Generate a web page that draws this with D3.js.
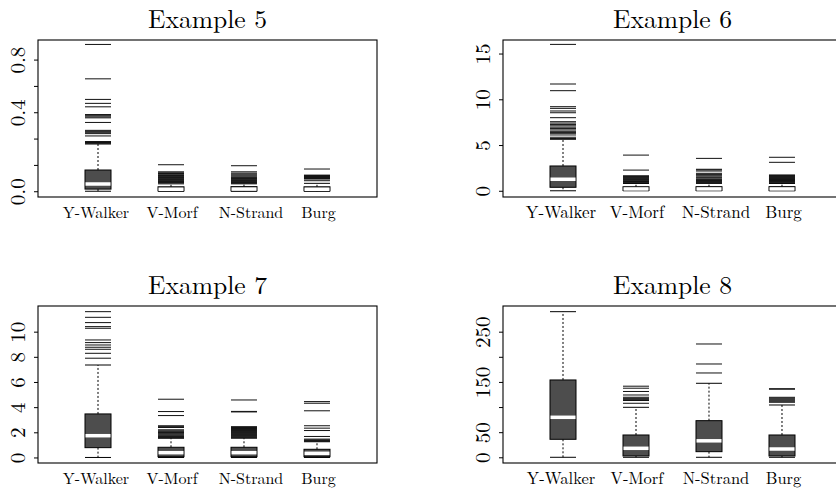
<!DOCTYPE html>
<html>
<head>
<meta charset="utf-8">
<script src="https://cdn.jsdelivr.net/npm/d3@7"></script>
</head>
<body style="margin:0;background:#fff">
<svg id="chart" width="836" height="489" font-family="Latin Modern Roman" style="display:block"></svg>
<script>
// ---------------- data ----------------
const categories = ["Y-Walker", "V-Morf", "N-Strand", "Burg"];
const titles = ["Example 5", "Example 6", "Example 7", "Example 8"];

// box statistics per category: [lower whisker, Q1, median, Q3, upper whisker]
const ex5Stats = [
  [0, 0.013, 0.044, 0.129, 0.287],
  [0, 0.002, 0.012, 0.027, 0.045],
  [0, 0.002, 0.013, 0.028, 0.045],
  [0, 0.002, 0.012, 0.027, 0.048]
];
const ex5Outliers = [
  [0.892, 0.683, 0.558, 0.534, 0.513, 0.466, 0.459, 0.452, 0.446, 0.418, 0.370, 0.364, 0.358, 0.350, 0.336, 0.302, 0.296, 0.291],
  [0.161, 0.118, 0.112, 0.108, 0.104, 0.099, 0.095, 0.092, 0.088, 0.084, 0.080, 0.076, 0.072, 0.068, 0.064, 0.060, 0.057, 0.054, 0.051],
  [0.155, 0.118, 0.110, 0.104, 0.098, 0.092, 0.086, 0.082, 0.078, 0.074, 0.070, 0.066, 0.062, 0.058, 0.055, 0.052, 0.049],
  [0.135, 0.098, 0.095, 0.092, 0.089, 0.086, 0.083, 0.080, 0.077, 0.074, 0.064]
];
const ex5Domain = [-0.035, 0.919];
const ex5Ticks = [0, 0.16, 0.32, 0.48, 0.64, 0.8];
const ex5TickLabels = ["0.0", "", "", "0.4", "", "0.8"];

const ex6Stats = [
  [0, 0.38, 1.26, 2.71, 5.63],
  [0, 0.03, 0.20, 0.44, 0.80],
  [0, 0.03, 0.20, 0.45, 0.81],
  [0, 0.02, 0.20, 0.45, 0.80]
];
const ex6Outliers = [
  [16.0, 11.67, 10.94, 9.19, 9.01, 8.72, 8.53, 7.99, 7.55, 7.40, 7.25, 7.10, 6.95, 6.80, 6.65, 6.50, 6.38, 6.28, 6.10, 5.85, 5.71],
  [3.90, 2.26, 1.64, 1.57, 1.50, 1.43, 1.36, 1.29, 1.22, 1.15, 1.08, 1.01, 0.94, 0.88],
  [3.54, 2.35, 2.28, 2.16, 1.91, 1.80, 1.72, 1.62, 1.50, 1.42, 1.30, 1.22, 1.12, 1.02, 0.92, 0.86],
  [3.66, 3.11, 1.73, 1.66, 1.60, 1.54, 1.48, 1.42, 1.36, 1.30, 1.24, 1.18, 1.12, 1.06, 1.00, 0.94, 0.88]
];
const ex6Domain = [-0.68, 16.48];
const ex6Ticks = [0, 5, 10, 15];
const ex6TickLabels = ["0", "5", "10", "15"];

const ex7Stats = [
  [0, 0.78, 1.73, 3.46, 7.35],
  [0, 0.06, 0.38, 0.81, 1.53],
  [0, 0.06, 0.38, 0.81, 1.53],
  [0, 0.06, 0.33, 0.65, 1.25]
];
const ex7Outliers = [
  [11.59, 11.14, 10.72, 10.40, 10.27, 9.34, 9.13, 8.94, 8.76, 8.60, 8.28, 7.89],
  [4.63, 3.65, 3.33, 2.52, 2.45, 2.38, 2.20, 2.12, 2.05, 1.98, 1.92, 1.85, 1.78, 1.72, 1.66, 1.60, 1.56],
  [4.57, 3.66, 3.62, 2.45, 2.38, 2.30, 2.22, 2.14, 2.06, 1.98, 1.90, 1.82, 1.74, 1.66, 1.58],
  [4.44, 4.31, 3.71, 2.52, 2.33, 2.14, 1.67, 1.46, 1.40, 1.34, 1.29]
];
const ex7Domain = [-0.44, 12.04];
const ex7Ticks = [0, 2, 4, 6, 8, 10];
const ex7TickLabels = ["0", "2", "4", "6", "8", "10"];

const ex8Stats = [
  [0, 35.8, 79.6, 153.9, 289.8],
  [0, 2.6, 17.9, 44.4, 99.5],
  [0, 11.2, 32.8, 72.9, 147.3],
  [0, 2.6, 16.5, 44.4, 104.1]
];
const ex8Outliers = [
  [],
  [141.5, 137.5, 131.0, 124.0, 119.5, 117.5, 116.0, 114.5, 113.0, 107.5],
  [225.5, 185.7, 167.8],
  [136.5, 135.5, 119.4, 117.5, 115.5, 113.5, 111.5, 109.5]
];
const ex8Domain = [-11.35, 301.1];
const ex8Ticks = [0, 50, 100, 150, 200, 250];
const ex8TickLabels = ["0", "50", "", "150", "", "250"];

// ---------------- layout / style ----------------
const FONT = "Latin Modern Roman";
const panels = [
  { stats: ex5Stats, outliers: ex5Outliers, domain: ex5Domain, ticks: ex5Ticks, labels: ex5TickLabels, x: 38,  y: 40,  xfs: 16 },
  { stats: ex6Stats, outliers: ex6Outliers, domain: ex6Domain, ticks: ex6Ticks, labels: ex6TickLabels, x: 503, y: 40,  xfs: 17 },
  { stats: ex7Stats, outliers: ex7Outliers, domain: ex7Domain, ticks: ex7Ticks, labels: ex7TickLabels, x: 38,  y: 306, xfs: 16 },
  { stats: ex8Stats, outliers: ex8Outliers, domain: ex8Domain, ticks: ex8Ticks, labels: ex8TickLabels, x: 503, y: 306, xfs: 16.5 }
];
const W = 339, H = 157, BOXW = 26;
const labelNudge = [-2, 1, 7, 1.5];

const svg = d3.select("#chart");

panels.forEach((p, pi) => {
  const g = svg.append("g").attr("transform", `translate(${p.x},${p.y})`);
  const x = d3.scalePoint().domain(categories).range([0, W]).padding(0.822);
  const y = d3.scaleLinear().domain(p.domain).range([H, 0]);

  // title
  g.append("text")
    .attr("x", W / 2).attr("y", -12)
    .attr("text-anchor", "middle")
    .attr("font-family", FONT)
    .attr("font-size", 25.6)
    .attr("fill", "#000")
    .text(titles[pi]);

  // boxes
  categories.forEach((c, ci) => {
    const [lw, q1, med, q3, uw] = p.stats[ci];
    const cx = x(c);
    const bg = g.append("g");
    bg.append("line").attr("x1", cx).attr("x2", cx).attr("y1", y(q3)).attr("y2", y(uw))
      .attr("stroke", "#000").attr("stroke-width", 1).attr("stroke-dasharray", "2,2");
    bg.append("line").attr("x1", cx).attr("x2", cx).attr("y1", y(q1)).attr("y2", y(lw))
      .attr("stroke", "#000").attr("stroke-width", 1).attr("stroke-dasharray", "2,2");
    [lw, uw].forEach(v => {
      bg.append("line").attr("x1", cx - BOXW / 2).attr("x2", cx + BOXW / 2)
        .attr("y1", y(v)).attr("y2", y(v)).attr("stroke", "#000").attr("stroke-width", 1);
    });
    bg.append("rect").attr("x", cx - BOXW / 2).attr("width", BOXW)
      .attr("y", y(q3)).attr("height", Math.max(0.5, y(q1) - y(q3)))
      .attr("fill", "#4d4d4d").attr("stroke", "#000").attr("stroke-width", 1);
    bg.append("line").attr("x1", cx - BOXW / 2 + 0.5).attr("x2", cx + BOXW / 2 - 0.5)
      .attr("y1", y(med)).attr("y2", y(med)).attr("stroke", "#fff").attr("stroke-width", 3.5);
    bg.selectAll("line.out").data(p.outliers[ci]).enter().append("line")
      .attr("class", "out")
      .attr("x1", cx - BOXW / 2).attr("x2", cx + BOXW / 2)
      .attr("y1", d => y(d)).attr("y2", d => y(d))
      .attr("stroke", "#111").attr("stroke-width", 1);
  });

  // frame
  g.append("rect").attr("x", 0).attr("y", 0).attr("width", W).attr("height", H)
    .attr("fill", "none").attr("stroke", "#000").attr("stroke-width", 1.1);

  // y axis
  const ax = g.append("g").call(
    d3.axisLeft(y).tickValues(p.ticks).tickFormat((d, i) => p.labels[i]).tickSize(4).tickSizeOuter(0)
  );
  ax.attr("font-family", FONT).attr("font-size", 21);
  ax.select(".domain").remove();
  ax.selectAll(".tick line").attr("stroke", "#000");
  ax.selectAll(".tick text")
    .attr("x", 0).attr("y", -13).attr("dy", 0)
    .attr("transform", "rotate(-90)")
    .attr("text-anchor", "middle")
    .attr("font-family", FONT)
    .attr("font-size", 21)
    .attr("fill", "#000");

  // x labels
  g.selectAll("text.xl").data(categories).enter().append("text")
    .attr("class", "xl")
    .attr("x", (d, i) => x(d) + labelNudge[i])
    .attr("y", H + 21)
    .attr("text-anchor", "middle")
    .attr("font-family", FONT)
    .attr("font-size", p.xfs)
    .attr("fill", "#000")
    .text(d => d);
});
</script>
</body>
</html>
